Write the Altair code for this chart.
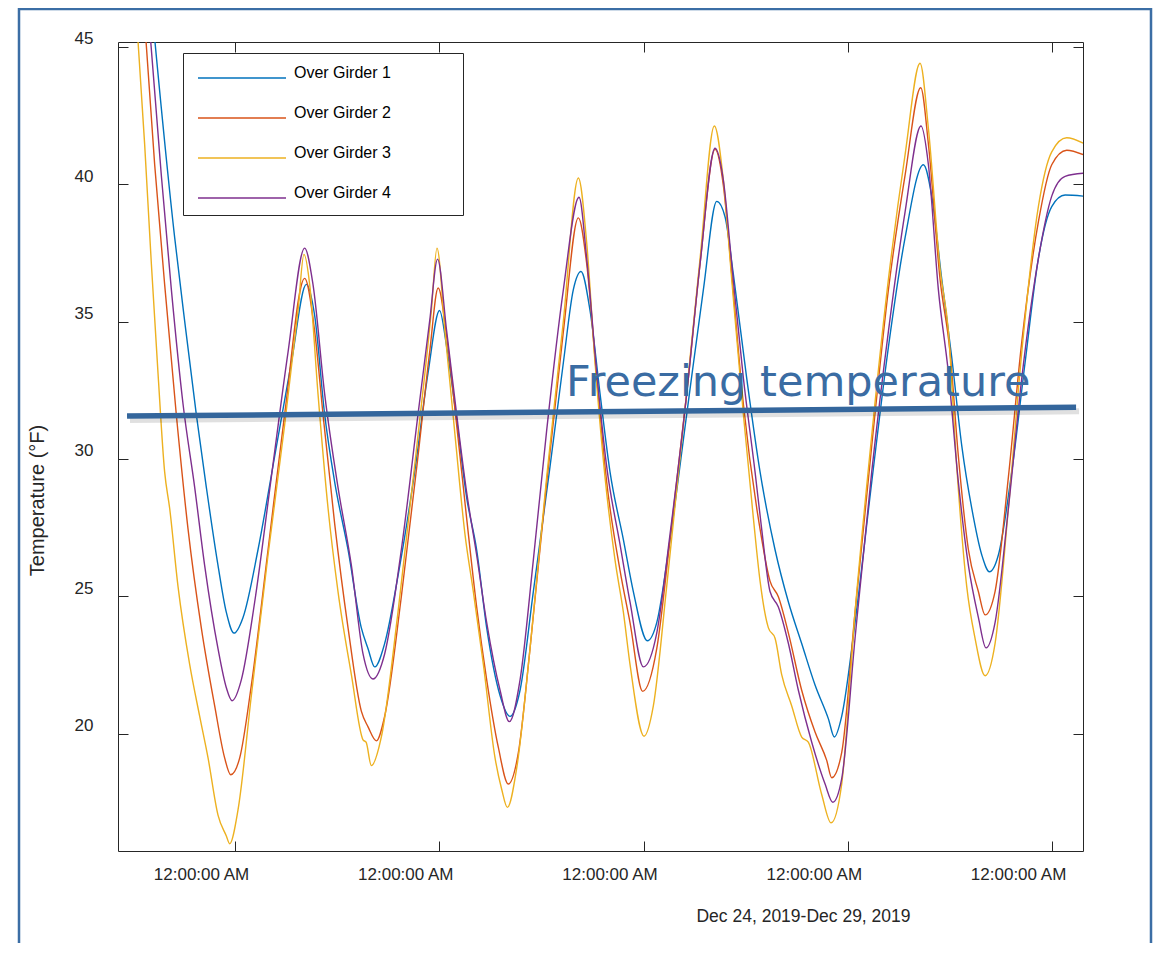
import altair as alt
import pandas as pd

# ---- data (hours after Dec 25, 2019 00:00, temperature in °F) ----
series_names = ["Over Girder 1", "Over Girder 2", "Over Girder 3", "Over Girder 4"]
series_colors = ["#0072BD", "#D95319", "#EDB120", "#7E2F8E"]

g1_hours = [-10.5, -7.09, -5.92, -4.55, -3.37, -2.0, -1.02, -0.12, 0.94, 2.7, 4.66, 6.62, 8.38, 9.36,
            10.53, 11.71, 13.28, 14.84, 15.63, 16.41, 17.58, 19.15, 21.11, 22.68, 24.03, 24.87, 26.04,
            27.22, 28.39, 29.57, 31.14, 32.31, 33.49, 35.05, 37.01, 38.58, 39.75, 40.65, 41.71, 42.89,
            44.06, 45.63, 46.8, 48.45, 49.55, 51.11, 53.07, 55.03, 56.6, 57.58, 58.55, 60.12, 61.69,
            63.45, 65.02, 66.58, 68.15, 69.72, 70.42, 71.28, 72.85, 74.81, 76.77, 78.73, 80.88, 81.86,
            83.04, 84.21, 85.39, 86.56, 87.74, 88.64, 89.69, 91.26, 92.83, 94.39, 95.96, 97.53, 99.64]
g1_temps = [48.8, 38.05, 35.02, 31.62, 28.97, 26.13, 24.42, 23.67, 24.24, 26.7, 30.1, 33.51, 36.35, 35.21,
            31.62, 29.16, 26.7, 23.86, 23.1, 22.44, 23.29, 25.75, 29.53, 33.13, 35.4, 34.07, 31.43,
            28.59, 26.7, 23.86, 21.4, 20.64, 21.59, 25.18, 29.72, 33.51, 36.16, 36.82, 35.4, 32.37,
            29.53, 27.07, 25.18, 23.39, 24.05, 27.07, 31.62, 36.16, 39.37, 38.8, 36.72, 32.94, 29.53,
            26.7, 24.8, 23.29, 21.78, 20.55, 19.89, 20.64, 24.05, 29.16, 34.07, 38.05, 40.7, 39.56,
            36.53, 33.7, 30.48, 28.21, 26.51, 25.9, 26.51, 29.53, 33.51, 37.29, 39.18, 39.6, 39.56]

g2_hours = [-11.5, -9.44, -8.27, -6.9, -5.52, -3.96, -2.39, -1.22, -0.51, 0.55, 1.92, 3.88, 5.83, 8.18,
            9.36, 10.34, 11.71, 13.28, 14.84, 15.63, 16.61, 17.58, 19.54, 21.5, 22.87, 23.87, 24.87,
            26.04, 27.22, 28.39, 29.57, 30.94, 32.11, 33.29, 34.66, 36.62, 38.58, 40.34, 41.32, 42.5,
            43.67, 45.24, 46.41, 47.9, 49.55, 51.11, 53.07, 54.64, 56.4, 57.38, 58.36, 59.73, 61.69,
            62.86, 63.84, 65.02, 66.58, 68.15, 69.52, 70.11, 71.28, 72.85, 74.81, 76.77, 78.73, 80.57,
            81.47, 82.84, 84.01, 84.99, 86.17, 87.34, 88.13, 89.3, 90.87, 92.44, 94.39, 95.96, 97.72, 99.64]
g2_temps = [49.8, 40.7, 36.35, 31.62, 27.45, 23.86, 21.02, 19.13, 18.52, 19.13, 21.78, 26.7, 31.62, 36.57,
            34.64, 31.62, 27.64, 23.86, 20.83, 20.26, 19.75, 20.64, 24.99, 30.1, 33.89, 36.22, 34.45,
            31.24, 27.83, 24.62, 21.97, 19.51, 18.18, 19.32, 23.1, 29.16, 34.64, 38.77, 37.1, 32.94,
            29.16, 25.94, 24.05, 21.55, 23.1, 27.07, 32.37, 37.1, 41.26, 39.94, 36.72, 31.99, 27.45,
            25.56, 24.99, 23.67, 21.59, 20.07, 19.04, 18.41, 19.32, 24.43, 30.48, 36.16, 40.32, 43.5,
            41.45, 36.53, 33.89, 30.1, 26.7, 25.18, 24.33, 25.18, 29.35, 34.26, 38.62, 40.7, 41.23, 41.07]

g3_hours = [-12.5, -10.62, -9.83, -9.05, -8.27, -7.68, -6.7, -5.33, -4.15, -3.17, -2.0, -1.02, -0.63,
            0.35, 1.92, 3.88, 5.83, 7.4, 8.1, 8.77, 9.75, 10.93, 12.1, 13.67, 15.04, 15.4, 16.02, 17.19,
            19.15, 21.5, 23.07, 23.73, 24.67, 25.85, 27.02, 28.0, 29.18, 30.55, 31.33, 32.0, 33.09,
            34.66, 36.62, 38.58, 40.34, 41.32, 42.3, 43.47, 44.65, 45.63, 46.41, 48.06, 49.15, 50.72,
            52.68, 54.64, 56.32, 57.38, 58.36, 59.73, 60.91, 61.69, 62.67, 63.45, 64.23, 65.41, 66.58,
            67.36, 68.93, 70.03, 71.28, 72.85, 74.81, 76.77, 78.73, 80.49, 81.47, 82.84, 83.82, 84.8,
            85.97, 86.95, 88.13, 89.3, 90.87, 92.44, 94.39, 95.96, 97.72, 99.64]
g3_temps = [50.5, 41.45, 37.1, 33.13, 29.53, 28.21, 25.37, 22.53, 20.64, 19.13, 17.05, 16.29, 16.01,
            17.24, 21.4, 26.51, 31.24, 35.4, 37.44, 36.35, 32.37, 28.21, 25.18, 22.16, 19.79, 19.7, 18.85,
            19.89, 24.43, 30.86, 35.4, 37.67, 34.64, 30.86, 27.26, 25.18, 22.53, 19.13, 17.99, 17.33,
            18.75, 23.1, 29.35, 35.02, 40.22, 37.86, 33.51, 29.35, 26.32, 24.43, 22.53, 19.92, 21.02,
            25.37, 31.24, 37.29, 42.11, 40.13, 36.53, 31.62, 27.83, 25.56, 23.86, 23.48, 22.16, 21.02,
            19.89, 19.7, 17.8, 16.77, 18.18, 24.43, 30.86, 36.53, 41.07, 44.39, 42.02, 36.91, 34.64,
            29.72, 25.37, 23.48, 22.12, 23.29, 28.21, 33.89, 39.18, 41.17, 41.68, 41.49]

g4_hours = [-11.0, -8.66, -7.48, -6.11, -4.74, -3.57, -2.0, -1.02, -0.35, 0.74, 2.31, 4.27, 6.23, 8.18,
            9.16, 10.53, 12.1, 13.67, 15.04, 16.21, 17.58, 19.54, 21.5, 22.87, 23.8, 24.87, 26.04, 27.22,
            28.39, 29.57, 31.14, 32.23, 33.49, 35.05, 36.62, 38.58, 40.42, 41.32, 42.5, 43.67, 45.24,
            46.41, 47.98, 49.55, 51.11, 53.07, 54.64, 56.4, 57.38, 58.36, 59.73, 61.1, 61.88, 62.86,
            63.84, 65.02, 66.19, 67.76, 69.33, 70.23, 71.28, 72.85, 74.81, 76.77, 78.73, 80.6, 81.47,
            82.64, 83.82, 84.99, 86.17, 87.34, 88.24, 89.3, 90.87, 92.44, 94.39, 95.96, 97.53, 99.64]
g4_temps = [49.45, 40.32, 36.16, 32.0, 28.97, 26.13, 23.1, 21.68, 21.21, 21.97, 24.8, 29.35, 33.89, 37.67,
            36.35, 32.37, 28.97, 26.13, 22.91, 22.0, 22.91, 26.7, 31.62, 35.02, 37.27, 34.64, 31.62, 28.78,
            26.51, 24.05, 21.59, 20.45, 21.97, 26.32, 31.05, 36.16, 39.52, 37.29, 33.13, 29.72, 26.89,
            24.8, 22.44, 23.67, 27.26, 32.37, 37.1, 41.3, 40.13, 37.1, 32.94, 29.53, 27.45, 25.18,
            24.62, 23.29, 21.59, 19.7, 18.18, 17.52, 18.37, 23.48, 29.53, 34.64, 38.99, 42.11, 40.7,
            36.16, 33.13, 29.16, 26.13, 24.24, 23.13, 24.05, 28.21, 32.94, 37.29, 39.56, 40.28, 40.39]

freeze_hours = [-12.69, 98.82]
freeze_temps = [31.56, 31.88]
freeze_label = ["Freezing temperature"]
freeze_label_hours = [38.9]
freeze_label_temps = [32.28]

y_ticks = [20, 25, 30, 35, 40, 45]
x_tick_days = [25, 26, 27, 28, 29]
x_title = "Dec 24, 2019-Dec 29, 2019"
y_title = "Temperature (°F)"

# ---- build tables ----
base = pd.Timestamp("2019-12-25 00:00:00")


def stamps(hours):
    return [(base + pd.Timedelta(hours=h)).strftime("%Y-%m-%dT%H:%M:%S") for h in hours]


rows = []
for name, hrs, vals in zip(series_names,
                           [g1_hours, g2_hours, g3_hours, g4_hours],
                           [g1_temps, g2_temps, g3_temps, g4_temps]):
    for t, v in zip(stamps(hrs), vals):
        rows.append({"time": t, "temp": v, "series": name})
lines_df = pd.DataFrame(rows)

freeze_df = pd.DataFrame({"time": stamps(freeze_hours), "temp": freeze_temps})
label_df = pd.DataFrame({"time": stamps(freeze_label_hours), "temp": freeze_label_temps,
                         "label": freeze_label})

W, H = 965, 809
ink = "#262626"
font = "Liberation Sans"

x_enc = alt.X(
    "time:T",
    scale=alt.Scale(domain=[alt.DateTime(year=2019, month=12, date=24, hours=10, minutes=15),
                            alt.DateTime(year=2019, month=12, date=29, hours=3, minutes=38)]),
    axis=alt.Axis(
        values=[alt.DateTime(year=2019, month=12, date=d) for d in x_tick_days],
        format="%I:%M:%S %p",
        labelFont=font, labelFontSize=17, labelColor=ink, labelPadding=15,
        labelOffset=-34, labelFlush=False, labelOverlap=False, labelAngle=0,
        ticks=False, tickSize=0, domain=False,
        grid=True, gridColor=ink, gridOpacity=1, gridWidth=1, gridDash=[10, H - 20, 10],
        title=x_title, titleFont=font, titleFontSize=17.5, titleFontWeight="normal",
        titleColor=ink, titleX=685, titleY=65, titleAlign="center", titleBaseline="middle",
    ),
)
y_enc = alt.Y(
    "temp:Q",
    scale=alt.Scale(domain=[15.745, 45.164], nice=False, zero=False),
    axis=alt.Axis(
        values=y_ticks,
        labelFont=font, labelFontSize=17, labelColor=ink, labelPadding=25,
        labelOffset=-8, labelFlush=False, labelOverlap=False,
        ticks=False, tickSize=0, domain=False,
        grid=True, gridColor=ink, gridOpacity=1, gridWidth=1, gridDash=[10, W - 20, 10],
        title=y_title, titleFont=font, titleFontSize=20, titleFontWeight="normal",
        titleColor=ink, titleX=-81, titleY=458, titleAngle=270, titleAlign="center",
        titleBaseline="middle",
    ),
)

# long horizontal legend swatch (88 px) plus an invisible move-to that widens the box
legend_swatch = "M-1,0H7.8M23.8,0"

lines = alt.Chart(lines_df).mark_line(clip=True, strokeWidth=1.4, interpolate="monotone").encode(
    x=x_enc,
    y=y_enc,
    color=alt.Color(
        "series:N",
        scale=alt.Scale(domain=series_names, range=series_colors),
        legend=alt.Legend(
            orient="none", legendX=65, legendY=11, title=None,
            symbolType=legend_swatch, symbolSize=400, symbolStrokeWidth=1.5,
            labelOffset=75, labelBaseline="alphabetic", labelFont=font, labelFontSize=16,
            labelColor="#000000", labelLimit=400,
            padding=14, rowPadding=24, strokeColor=ink, fillColor="#ffffff",
        ),
    ),
)

shadow = alt.Chart(freeze_df).mark_line(
    color="#000000", opacity=0.12, strokeWidth=6, xOffset=3, yOffset=4
).encode(x=x_enc, y=y_enc)

freeze = alt.Chart(freeze_df).mark_line(
    color="#34669c", strokeWidth=5.5, strokeCap="butt"
).encode(x=x_enc, y=y_enc)

label = alt.Chart(label_df).mark_text(
    align="left", baseline="alphabetic", font="DejaVu Sans", fontSize=43, color="#3a6ca3"
).encode(x=x_enc, y=y_enc, text="label:N")

frame = alt.Chart(alt.Data(values=[{"frame": 1}])).mark_rect(
    filled=False, stroke="#3b6ea5", strokeWidth=2.5
).encode(x=alt.value(-99), x2=alt.value(1033), y=alt.value(-33), y2=alt.value(1000))

chart = alt.layer(lines, shadow, freeze, label, frame).properties(
    width=W, height=H,
    autosize=alt.AutoSizeParams(type="none"),
    padding={"left": 110, "top": 34, "right": 70, "bottom": 92},
    background="#ffffff",
).configure_view(stroke=ink, strokeWidth=1)

chart.save("out.html", embed_options={"renderer": "svg", "actions": False})
